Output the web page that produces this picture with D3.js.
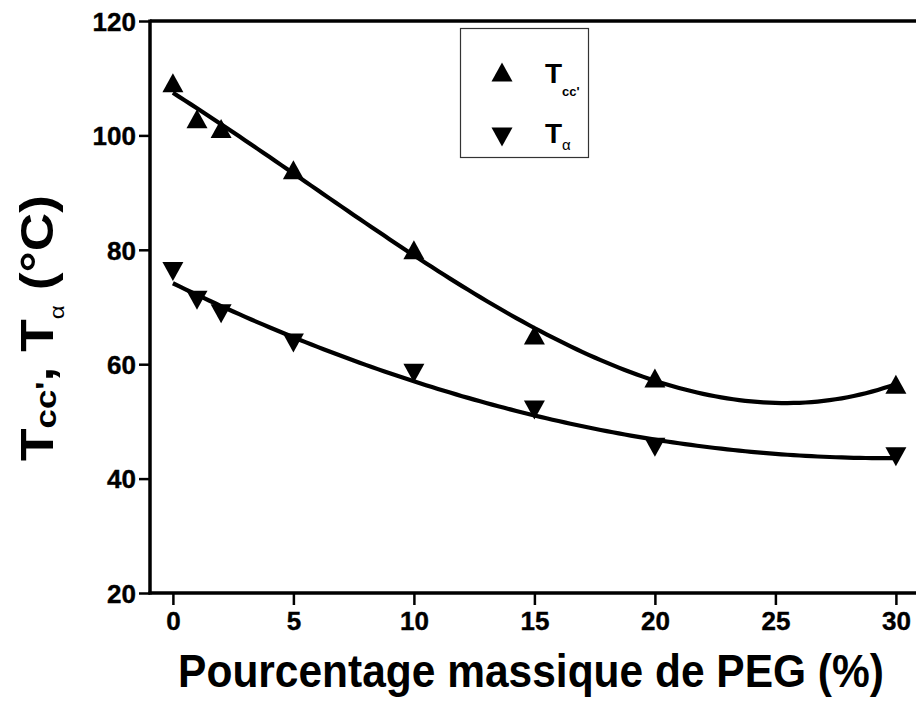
<!DOCTYPE html>
<html><head><meta charset="utf-8">
<script src="https://cdn.jsdelivr.net/npm/d3@7"></script>
<style>
body{margin:0;background:#fff}
svg{display:block}
text{font-family:"Liberation Sans",Arial,Helvetica,sans-serif;font-weight:bold;fill:#000}
</style>
</head><body>
<svg id="chart" width="916" height="706"></svg>
<script>
// PEG mass fraction (%) and the two transition temperatures (°C)
const pegPercent   = [0, 1, 2, 5, 10, 15, 20, 30];
const tccValues    = [109.2, 102.9, 101.2, 94.0, 80.0, 65.1, 57.6, 56.5];
const tAlphaValues = [76.2, 71.2, 68.8, 63.7, 58.4, 52.0, 45.5, 43.8];
const xTicks = [0, 5, 10, 15, 20, 25, 30];
const xMinorTicks = [2.5, 7.5, 12.5, 17.5, 22.5, 27.5];
const yTicks = [20, 40, 60, 80, 100, 120];
const yMinorTicks = [30, 50, 70, 90, 110];

const svg = d3.select("#chart");
const x = d3.scaleLinear().domain([-0.95, 31]).range([150, 920]);
const y = d3.scaleLinear().domain([20, 120]).range([593, 21]);

// least-squares polynomial fit
function polyFit(xs, ys, deg) {
  const n = deg + 1;
  const A = Array.from({length: n}, () => new Array(n + 1).fill(0));
  xs.forEach((xv, k) => {
    for (let i = 0; i < n; i++) {
      for (let j = 0; j < n; j++) A[i][j] += Math.pow(xv, i + j);
      A[i][n] += ys[k] * Math.pow(xv, i);
    }
  });
  for (let c = 0; c < n; c++) {
    let p = c;
    for (let r = c + 1; r < n; r++) if (Math.abs(A[r][c]) > Math.abs(A[p][c])) p = r;
    [A[c], A[p]] = [A[p], A[c]];
    for (let r = 0; r < n; r++) {
      if (r === c) continue;
      const f = A[r][c] / A[c][c];
      for (let k = c; k <= n; k++) A[r][k] -= f * A[c][k];
    }
  }
  const coef = A.map((row, i) => row[n] / row[i]);
  return v => coef.reduce((s, a, i) => s + a * Math.pow(v, i), 0);
}
const tccFit = polyFit(pegPercent, tccValues, 3);
const tAlphaFit = polyFit(pegPercent, tAlphaValues, 2);
const xs = d3.range(0, 30.001, 0.25);

// axes
const gx = svg.append("g").attr("transform", "translate(0,593)");
gx.call(d3.axisBottom(x).tickValues(xMinorTicks).tickSize(7).tickFormat(""));
gx.call(d3.axisBottom(x).tickValues(xTicks).tickSize(12).tickPadding(7));
const gy = svg.append("g").attr("transform", "translate(150,0)");
gy.call(d3.axisLeft(y).tickValues(yMinorTicks).tickSize(5).tickFormat(""));
gy.call(d3.axisLeft(y).tickValues(yTicks).tickSize(11).tickPadding(3));
svg.selectAll(".domain").remove();
svg.selectAll(".tick line").attr("stroke", "#000").attr("stroke-width", 2.5);
svg.selectAll(".tick text").attr("font-size", 26).attr("font-family", null)
  .style("font-weight", "bold").attr("stroke", "#000").attr("stroke-width", 0.4);
gy.selectAll(".tick text").attr("dy", "0.36em");

// frame
const frame = svg.append("g").attr("stroke", "#000").attr("stroke-width", 3.5).attr("fill", "none");
frame.append("path").attr("d", d3.line()([[150, 21], [916, 21]]));
frame.append("path").attr("d", d3.line()([[150, 19.5], [150, 594.5]]));
frame.append("path").attr("d", d3.line()([[148.5, 593], [916, 593]]));

// fitted curves
const line = d3.line().x(d => x(d[0])).y(d => y(d[1])).curve(d3.curveLinear);
svg.append("path").attr("d", line(xs.map(v => [v, tccFit(v)])))
  .attr("fill", "none").attr("stroke", "#000").attr("stroke-width", 4.2);
svg.append("path").attr("d", line(xs.map(v => [v, tAlphaFit(v)])))
  .attr("fill", "none").attr("stroke", "#000").attr("stroke-width", 4.2);

// triangle markers centred on their bounding box
const triW = 21, triH = 19;
const triUp = `M0,${-triH/2}L${triW/2},${triH/2}L${-triW/2},${triH/2}Z`;
const triDown = `M0,${triH/2}L${triW/2},${-triH/2}L${-triW/2},${-triH/2}Z`;
svg.append("g").selectAll("path").data(pegPercent).join("path")
  .attr("d", triUp).attr("fill", "#000")
  .attr("transform", (d, i) => `translate(${x(d)},${y(tccValues[i])})`);
svg.append("g").selectAll("path").data(pegPercent).join("path")
  .attr("d", triDown).attr("fill", "#000")
  .attr("transform", (d, i) => `translate(${x(d)},${y(tAlphaValues[i])})`);

// legend
const lg = svg.append("g");
lg.append("rect").attr("x", 460.5).attr("y", 28.5).attr("width", 128).attr("height", 129)
  .attr("fill", "#fff").attr("stroke", "#333").attr("stroke-width", 1.2);
lg.append("path").attr("d", triUp).attr("transform", "translate(502,72)");
lg.append("path").attr("d", triDown).attr("transform", "translate(502,137)");
const l1 = lg.append("text").attr("x", 545).attr("y", 83).attr("font-size", 28);
l1.append("tspan").text("T");
l1.append("tspan").attr("font-size", 13).attr("dy", 13).text("cc'");
const l2 = lg.append("text").attr("x", 545).attr("y", 143).attr("font-size", 28);
l2.append("tspan").text("T");
l2.append("tspan").attr("font-size", 15).style("font-weight", "normal").attr("dy", 7).text("α");

// x-axis title: narrow, tall lettering (font sized to width, then stretched vertically)
const xTitleWidth = 706, xTitleHeight = 46;
const xt = svg.append("text").attr("text-anchor", "middle")
  .attr("font-size", xTitleHeight).text("Pourcentage massique de PEG (%)");
const natural = xt.node().getComputedTextLength();
const fitSize = xTitleHeight * xTitleWidth / natural;
xt.attr("font-size", fitSize)
  .attr("transform", `translate(531,687) scale(1,${xTitleHeight / fitSize})`);

const yt = svg.append("text").attr("transform", "translate(53,328) rotate(-90) scale(1.16,1)")
  .attr("text-anchor", "middle").attr("font-size", 46);
yt.append("tspan").text("T");
yt.append("tspan").attr("font-size", 30).attr("dy", 3).text("cc'");
yt.append("tspan").attr("dy", -3).text(", T");
yt.append("tspan").attr("font-size", 21).style("font-weight", "normal").attr("dy", 11).text("α");
yt.append("tspan").attr("dy", -11).text(" (°C)");
</script>
</body></html>
